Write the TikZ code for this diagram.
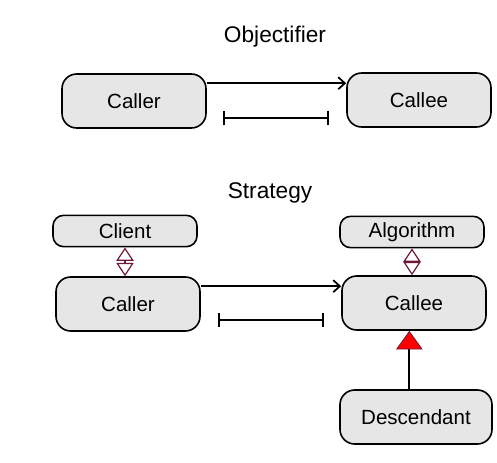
\documentclass[tikz,border=0pt]{standalone}
\usepackage{fontspec}
\setmainfont{Liberation Sans}
\usetikzlibrary{arrows.meta,positioning}
\definecolor{boxgray}{RGB}{230,230,230}
\definecolor{linkred}{RGB}{110,25,60}
\tikzset{%
  >={Straight Barb[length=5pt,width=9pt]},
  klasse/.style={draw,line width=1.2pt,fill=boxgray,rounded corners=11pt,
    minimum width=108pt,minimum height=40.5pt,
    font=\fontsize{15.4}{18}\selectfont},
  rolle/.style={klasse,rounded corners=8pt,minimum height=23.5pt},
  titel/.style={font=\fontsize{17}{20}\selectfont},
  spanne/.style={line width=1.3pt,{Bar[width=11pt]}-{Bar[width=11pt]}},
  rollen/.style={linkred,line width=0.9pt,
    {Triangle[open,length=10pt,width=13pt]}-{Triangle[open,length=10pt,width=13pt]}},
  erbt/.style={line width=1.3pt,
    -{Triangle[length=14pt,width=20pt,fill=red,color=linkred,line width=0.6pt]}}
}

\begin{document}
\begin{tikzpicture}[x=0.75pt,y=-0.75pt]
\useasboundingbox (0,0) rectangle (497,462);

% Objectifier
\node[titel] (objtitle) at (275,37) {Objectifier};
\node[klasse] (caller1) at (134,101) {Caller};
\node[klasse] (callee1) at (419,100) {Callee};
\draw[->,line width=1.3pt] ([yshift=-7.5pt]caller1.north east) -- ([yshift=-7.5pt]caller1.north east -| callee1.west);
\coordinate (s1a) at (223,118);
\coordinate (s1b) at (329,118);
\draw[spanne] (s1a) -- (s1b);

% Strategy
\node[titel] (strtitle) at (270,193) {Strategy};
\node[rolle] (client) at (125,231) {Client};
\node[rolle] (algo) at (412,232) {Algorithm};
\node[klasse] (caller2) at (128,304) {Caller};
\node[klasse] (callee2) at (414,303) {Callee};
\node[klasse,minimum width=114pt] (desc) at (416,417) {Descendant};

\draw[rollen] (client.south) -- (client.south |- caller2.north);
\draw[rollen] (algo.south) -- (algo.south |- callee2.north);
\draw[->,line width=1.3pt] ([yshift=-7.5pt]caller2.north east) -- ([yshift=-7.5pt]caller2.north east -| callee2.west);
\coordinate (s2a) at (218,320);
\coordinate (s2b) at (324,320);
\draw[spanne] (s2a) -- (s2b);
\draw[erbt] ([xshift=-5pt]desc.north) -- ([xshift=-5pt]desc.north |- callee2.south);
\end{tikzpicture}
\end{document}
